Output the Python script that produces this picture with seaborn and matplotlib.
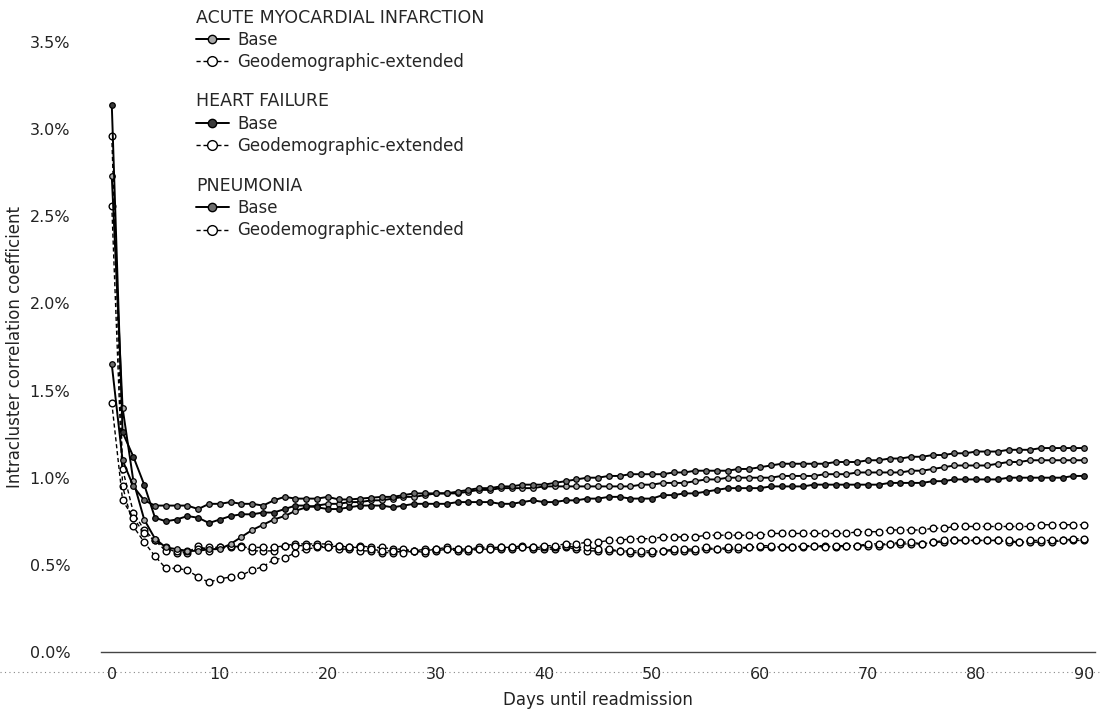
import matplotlib.pyplot as plt
import numpy as np
import pandas as pd
import seaborn as sns
from matplotlib.lines import Line2D

# ─── data (% ICC by day) ───
days = list(range(0, 91))

ami_base = [
    2.73, 1.40, 0.98, 0.76, 0.65, 0.60, 0.59, 0.58, 0.58, 0.59,
    0.59, 0.62, 0.66, 0.70, 0.73, 0.76, 0.78, 0.81, 0.83, 0.84,
    0.85, 0.85, 0.86, 0.86, 0.87, 0.87, 0.88, 0.89, 0.89, 0.90,
    0.91, 0.91, 0.91, 0.92, 0.93, 0.93, 0.94, 0.94, 0.94, 0.94,
    0.95, 0.95, 0.95, 0.95, 0.95, 0.95, 0.95, 0.95, 0.95, 0.96,
    0.96, 0.97, 0.97, 0.97, 0.98, 0.99, 0.99, 1.00, 1.00, 1.00,
    1.00, 1.00, 1.01, 1.01, 1.01, 1.01, 1.02, 1.02, 1.02, 1.03,
    1.03, 1.03, 1.03, 1.03, 1.04, 1.04, 1.05, 1.06, 1.07, 1.07,
    1.07, 1.07, 1.08, 1.09, 1.09, 1.10, 1.10, 1.10, 1.10, 1.10,
    1.10,
]
ami_ext = [
    2.56, 0.95, 0.72, 0.63, 0.55, 0.48, 0.48, 0.47, 0.43, 0.40,
    0.42, 0.43, 0.44, 0.47, 0.49, 0.53, 0.54, 0.57, 0.59, 0.60,
    0.60, 0.59, 0.59, 0.58, 0.58, 0.57, 0.57, 0.58, 0.58, 0.57,
    0.58, 0.59, 0.58, 0.58, 0.59, 0.59, 0.59, 0.59, 0.60, 0.59,
    0.59, 0.59, 0.60, 0.59, 0.58, 0.58, 0.58, 0.58, 0.57, 0.57,
    0.57, 0.58, 0.58, 0.58, 0.58, 0.59, 0.59, 0.59, 0.59, 0.60,
    0.60, 0.60, 0.60, 0.60, 0.60, 0.61, 0.61, 0.60, 0.61, 0.61,
    0.61, 0.61, 0.62, 0.62, 0.62, 0.62, 0.63, 0.63, 0.64, 0.64,
    0.64, 0.64, 0.64, 0.63, 0.63, 0.63, 0.63, 0.63, 0.64, 0.64,
    0.64,
]
hf_base = [
    3.14, 1.26, 1.12, 0.96, 0.77, 0.75, 0.76, 0.78, 0.77, 0.74,
    0.76, 0.78, 0.79, 0.79, 0.80, 0.80, 0.82, 0.84, 0.84, 0.83,
    0.82, 0.82, 0.83, 0.84, 0.84, 0.84, 0.83, 0.84, 0.85, 0.85,
    0.85, 0.85, 0.86, 0.86, 0.86, 0.86, 0.85, 0.85, 0.86, 0.87,
    0.86, 0.86, 0.87, 0.87, 0.88, 0.88, 0.89, 0.89, 0.88, 0.88,
    0.88, 0.90, 0.90, 0.91, 0.91, 0.92, 0.93, 0.94, 0.94, 0.94,
    0.94, 0.95, 0.95, 0.95, 0.95, 0.96, 0.96, 0.96, 0.96, 0.96,
    0.96, 0.96, 0.97, 0.97, 0.97, 0.97, 0.98, 0.98, 0.99, 0.99,
    0.99, 0.99, 0.99, 1.00, 1.00, 1.00, 1.00, 1.00, 1.00, 1.01,
    1.01,
]
hf_ext = [
    2.96, 1.05, 0.80, 0.70, 0.64, 0.60, 0.57, 0.57, 0.61, 0.58,
    0.60, 0.60, 0.61, 0.58, 0.58, 0.58, 0.61, 0.62, 0.62, 0.62,
    0.62, 0.61, 0.60, 0.61, 0.60, 0.60, 0.59, 0.59, 0.58, 0.59,
    0.59, 0.60, 0.59, 0.59, 0.60, 0.60, 0.60, 0.60, 0.61, 0.60,
    0.60, 0.60, 0.61, 0.60, 0.60, 0.59, 0.59, 0.58, 0.58, 0.58,
    0.58, 0.58, 0.59, 0.59, 0.59, 0.60, 0.59, 0.60, 0.60, 0.60,
    0.61, 0.61, 0.60, 0.60, 0.61, 0.61, 0.60, 0.61, 0.61, 0.61,
    0.62, 0.62, 0.62, 0.63, 0.63, 0.62, 0.63, 0.64, 0.64, 0.64,
    0.64, 0.64, 0.64, 0.64, 0.63, 0.64, 0.64, 0.64, 0.64, 0.65,
    0.65,
]
pn_base = [
    1.65, 1.10, 0.95, 0.87, 0.84, 0.84, 0.84, 0.84, 0.82, 0.85,
    0.85, 0.86, 0.85, 0.85, 0.84, 0.87, 0.89, 0.88, 0.88, 0.88,
    0.89, 0.875, 0.875, 0.88, 0.885, 0.89, 0.89, 0.90, 0.91, 0.91,
    0.91, 0.91, 0.92, 0.93, 0.94, 0.94, 0.95, 0.95, 0.96, 0.96,
    0.96, 0.97, 0.98, 0.99, 1.00, 1.00, 1.01, 1.01, 1.02, 1.02,
    1.02, 1.02, 1.03, 1.03, 1.04, 1.04, 1.04, 1.04, 1.05, 1.05,
    1.06, 1.07, 1.08, 1.08, 1.08, 1.08, 1.08, 1.09, 1.09, 1.09,
    1.10, 1.10, 1.11, 1.11, 1.12, 1.12, 1.13, 1.13, 1.14, 1.14,
    1.15, 1.15, 1.15, 1.16, 1.16, 1.16, 1.17, 1.17, 1.17, 1.17,
    1.17,
]
pn_ext = [
    1.43, 0.87, 0.77, 0.68, 0.64, 0.58, 0.58, 0.58, 0.59, 0.60,
    0.60, 0.61, 0.60, 0.60, 0.60, 0.60, 0.61, 0.61, 0.61, 0.61,
    0.60, 0.61, 0.60, 0.60, 0.59, 0.58, 0.58, 0.57, 0.58, 0.58,
    0.59, 0.59, 0.59, 0.59, 0.59, 0.59, 0.60, 0.60, 0.60, 0.60,
    0.61, 0.61, 0.62, 0.62, 0.63, 0.63, 0.64, 0.64, 0.65, 0.65,
    0.65, 0.66, 0.66, 0.66, 0.66, 0.67, 0.67, 0.67, 0.67, 0.67,
    0.67, 0.68, 0.68, 0.68, 0.68, 0.68, 0.68, 0.68, 0.68, 0.69,
    0.69, 0.69, 0.70, 0.70, 0.70, 0.70, 0.71, 0.71, 0.72, 0.72,
    0.72, 0.72, 0.72, 0.72, 0.72, 0.72, 0.73, 0.73, 0.73, 0.73,
    0.73,
]

conditions = ["ACUTE MYOCARDIAL INFARCTION", "HEART FAILURE", "PNEUMONIA"]
base_series = [ami_base, hf_base, pn_base]
ext_series = [ami_ext, hf_ext, pn_ext]
base_fill = ["#a8a8a8", "#3a3a3a", "#6e6e6e"]  # marker shade per condition

y_ticks = [0.0, 0.5, 1.0, 1.5, 2.0, 2.5, 3.0, 3.5]
x_ticks = [0, 10, 20, 30, 40, 50, 60, 70, 80, 90]

sns.set_style("white")
plt.rcParams["font.family"] = ["DejaVu Sans"]

fig = plt.figure(figsize=(11, 7.11), dpi=100)
ax = fig.add_axes([0.0918, 0.083, 0.9036, 0.858])

dash = (0, (3, 2))
for i, cond in enumerate(conditions):
    sns.lineplot(
        x=days, y=ext_series[i], ax=ax, color="black", linewidth=1.0,
        linestyle=dash, marker="o", markersize=4.8,
        markerfacecolor="white", markeredgecolor="black", markeredgewidth=1.0,
        zorder=2,
    )
for i, cond in enumerate(conditions):
    sns.lineplot(
        x=days, y=base_series[i], ax=ax, color="black", linewidth=1.4,
        marker="o", markersize=4.0,
        markerfacecolor=base_fill[i], markeredgecolor="black", markeredgewidth=0.9,
        zorder=3,
    )

ax.set_xlim(-1, 91)
ax.set_ylim(0, 3.5)
ax.set_xticks(x_ticks)
ax.set_yticks(y_ticks)
ax.set_yticklabels([f"{v:.1f}%" for v in y_ticks])

for s in ["top", "right", "left"]:
    ax.spines[s].set_visible(False)
ax.spines["bottom"].set_color("#444444")
ax.spines["bottom"].set_linewidth(1.0)

ax.tick_params(axis="x", direction="out", length=7, width=0.8, color="#444444",
               labelsize=11.5, pad=4, labelcolor="#222222")
ax.tick_params(axis="y", direction="out", length=8, width=0.8, color="#777777",
               labelsize=11.5, pad=14, labelcolor="#222222")

ax.set_xlabel("Days until readmission", fontsize=12, color="#222222", labelpad=6)
ax.set_ylabel("Intracluster correlation coefficient", fontsize=12,
              color="#222222", labelpad=4)

# dotted rule running under the axis, as printed
fig.add_artist(Line2D([0, 1], [1 - 672 / 711] * 2, transform=fig.transFigure,
                      linestyle=(0, (1, 3)), color="#888888", linewidth=0.8))

# legend: one block per condition
tops = [0.988, 0.870, 0.751]
for i, cond in enumerate(conditions):
    handles = [
        Line2D([], [], color="black", linewidth=1.4, marker="o", markersize=6,
               markerfacecolor=base_fill[i], markeredgecolor="black"),
        Line2D([], [], color="black", linewidth=1.0, linestyle=dash, marker="o",
               markersize=7, markerfacecolor="white", markeredgecolor="black"),
    ]
    leg = ax.legend(
        handles, ["Base", "Geodemographic-extended"],
        title=cond, loc="upper left", bbox_to_anchor=(0.178, tops[i]),
        bbox_transform=fig.transFigure, frameon=False, fontsize=12,
        title_fontsize=12.5, handlelength=2.0, handletextpad=0.5,
        labelspacing=0.25, borderpad=0.0, borderaxespad=0.0,
        alignment="left",
    )
    if i < len(conditions) - 1:
        ax.add_artist(leg)

fig.savefig("out.png", dpi=100)
